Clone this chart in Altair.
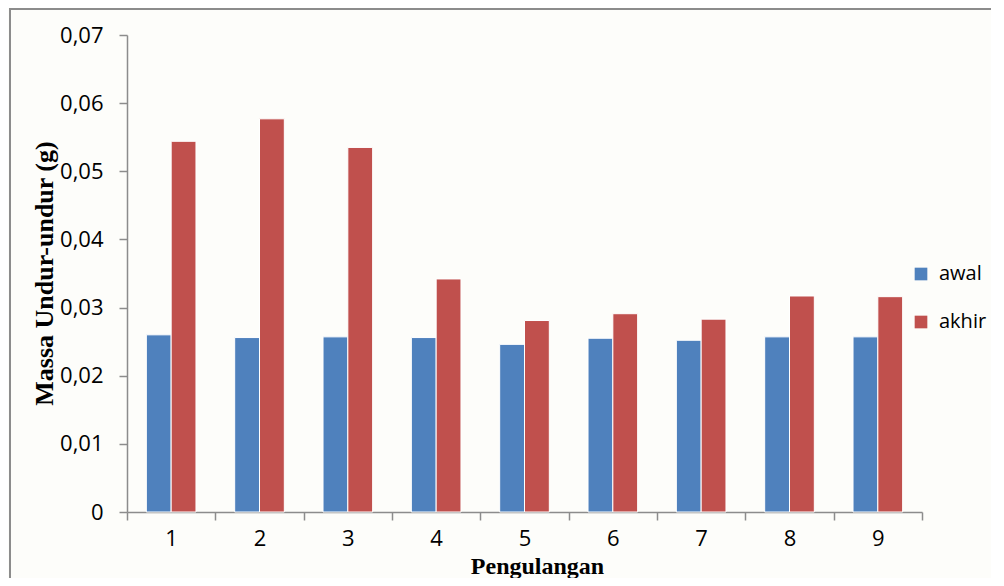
import altair as alt
import pandas as pd

pengulangan = ["1", "2", "3", "4", "5", "6", "7", "8", "9"]
awal = [0.0260, 0.0256, 0.0257, 0.0256, 0.0246, 0.0255, 0.0252, 0.0257, 0.0257]
akhir = [0.0544, 0.0577, 0.0535, 0.0342, 0.0281, 0.0291, 0.0283, 0.0317, 0.0316]
series = ["awal", "akhir"]
colors = ["#4F81BD", "#C0504D"]

rows = []
for i, p in enumerate(pengulangan):
    rows.append({"p": p, "seri": "awal", "massa": awal[i]})
    rows.append({"p": p, "seri": "akhir", "massa": akhir[i]})
df = pd.DataFrame(rows)

W, H = 795, 477
sans = "Open Sans"
serif = "Liberation Serif"

bars = alt.Chart(df).mark_bar(stroke="white", strokeWidth=1).encode(
    x=alt.X("p:N", sort=pengulangan,
            scale=alt.Scale(paddingInner=0, paddingOuter=0),
            axis=alt.Axis(title="Pengulangan", labelAngle=0, tickBand="extent",
                          labelFont=sans, labelFontSize=22, labelColor="black",
                          labelPadding=8, tickSize=8, tickColor="#8c8c8c",
                          domainColor="#8c8c8c", domainWidth=1.5, tickWidth=1.5,
                          titleFont=serif, titleFontSize=24, titleFontWeight="bold",
                          titleColor="black", titleX=410, titleY=61,
                          titleBaseline="alphabetic", titleAlign="center")),
    xOffset=alt.XOffset("seri:N", sort=series,
                        scale=alt.Scale(paddingInner=0, paddingOuter=0.78)),
    y=alt.Y("massa:Q", scale=alt.Scale(domain=[0, 0.07], nice=False),
            axis=alt.Axis(title="Massa Undur-undur (g)",
                          values=[0, 0.01, 0.02, 0.03, 0.04, 0.05, 0.06, 0.07],
                          labelExpr="datum.value == 0 ? '0' : replace(format(datum.value, '.2f'), '.', ',')",
                          labelFont=sans, labelFontSize=22, labelColor="black",
                          labelPadding=16, tickSize=8, tickColor="#8c8c8c",
                          domainColor="#8c8c8c", domainWidth=1.5, tickWidth=1.5,
                          grid=False,
                          titleFont=serif, titleFontSize=26, titleFontWeight="bold",
                          titleColor="black", titleX=-75, titleY=238,
                          titleAngle=270, titleBaseline="alphabetic",
                          titleAlign="center")),
    color=alt.Color("seri:N", sort=series,
                    scale=alt.Scale(domain=series, range=colors),
                    legend=alt.Legend(title=None, orient="none", legendX=784, legendY=229,
                                      symbolType="square", symbolSize=160,
                                      symbolStrokeWidth=0, labelFont=sans,
                                      labelFontSize=20, labelColor="black",
                                      labelOffset=8, rowPadding=28, padding=0)),
)

frame = alt.Chart(pd.DataFrame({"a": [0]})).mark_rect(
    fill=None, stroke="#8c8c8c", strokeWidth=2
).encode(
    x=alt.value(-117), x2=alt.value(1000), y=alt.value(-26), y2=alt.value(700)
)

chart = alt.layer(frame, bars).properties(
    width=W, height=H,
    autosize=alt.AutoSizeParams(type="none"),
    padding={"left": 119, "top": 27, "right": 69, "bottom": 66},
    background="#fdfdfa",
).configure_view(stroke=None)

chart.save("out.html", embed_options={"renderer": "svg", "actions": False})
